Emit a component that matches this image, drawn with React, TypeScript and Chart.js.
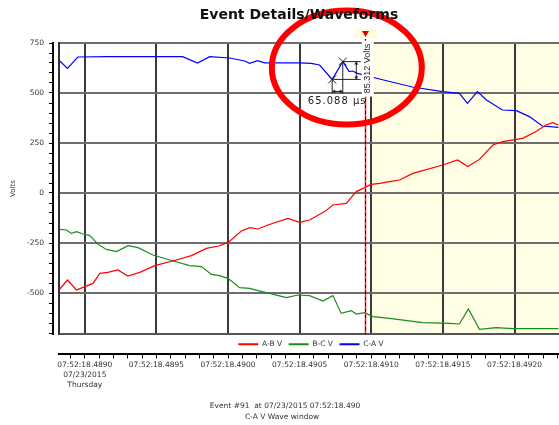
import React, { useEffect, useRef } from 'react';
import { Chart, registerables } from 'chart.js';

Chart.register(...registerables);

// ---------- data (time in microseconds after 07:52:18.4890, values in Volts) ----------
const seriesNames = ['A-B V', 'B-C V', 'C-A V'];
const seriesColors = ['#ff0000', '#1a8c1a', '#0000ff'];

const abTimes = [-174, -121, -58, 0, 58, 105, 160, 232, 300, 384, 488, 614, 744, 849, 935, 999, 1093, 1151, 1209, 1278, 1418, 1499, 1569, 1674, 1732, 1825, 1895, 1953, 1999, 2060, 2127, 2197, 2290, 2499, 2603, 2673, 2755, 2848, 2917, 3057, 3150, 3220, 3266, 3306];
const abVolts = [-480, -435, -485, -468, -452, -402, -397, -385, -415, -397, -363, -340, -313, -277, -265, -248, -190, -173, -180, -160, -127, -147, -135, -93, -60, -52, 7, 27, 43, 48, 57, 65, 98, 140, 165, 132, 168, 240, 257, 273, 307, 340, 352, 340];

const bcTimes = [-174, -128, -93, -58, -12, 35, 93, 151, 221, 302, 372, 476, 593, 732, 814, 884, 941, 999, 1081, 1151, 1209, 1290, 1407, 1488, 1569, 1662, 1732, 1790, 1860, 1895, 1953, 2011, 2127, 2359, 2545, 2615, 2678, 2755, 2871, 2987, 3306];
const bcVolts = [-182, -185, -202, -193, -205, -213, -257, -282, -293, -263, -273, -310, -335, -363, -368, -407, -413, -427, -473, -477, -488, -502, -523, -510, -513, -540, -513, -602, -588, -605, -598, -618, -627, -648, -652, -655, -580, -682, -673, -678, -678];

const caTimes = [-174, -121, -49, 160, 683, 786, 872, 1011, 1116, 1151, 1206, 1255, 1499, 1580, 1639, 1727, 1801, 1845, 1869, 1904, 2057, 2287, 2497, 2615, 2671, 2741, 2804, 2915, 3013, 3103, 3194, 3306];
const caVolts = [660, 623, 680, 682, 682, 650, 682, 675, 660, 648, 662, 651, 651, 648, 640, 568, 657, 607, 610, 598, 570, 530, 507, 498, 448, 507, 465, 415, 412, 382, 335, 328];

// axes
const xMinUs = -180;
const xMaxUs = 3750;
const yMin = -705;
const yMax = 750;
const xMajorTicksUs = [0, 500, 1000, 1500, 2000, 2500, 3000, 3500];
const xTickLabels = ['07:52:18.4890', '07:52:18.4895', '07:52:18.4900', '07:52:18.4905', '07:52:18.4910', '07:52:18.4915', '07:52:18.4920', '07:52:18.4925'];
const firstTickExtraLines = ['07/23/2015', 'Thursday'];
const xMinorStepUs = 100;
const yMajorTicks = [750, 500, 250, 0, -250, -500];
const yTickLabels = ['750', '500', '250', '0', '-250', '-500'];
const yMinorStep = 50;
const yAxisTitle = 'Volts';

// texts & markers
const titleText = 'Event Details/Waveforms';
const footerLines = ['Event #91  at 07/23/2015 07:52:18.490', 'C-A V Wave window'];
const triggerUs = 1953;
const windowStartUs = 2000;
const measureFromUs = 1727;
const measureToUs = 1801;
const measureDtText = '65.088 µs';
const measureDvText = '85.312 Volts';

const FONT = '"DejaVu Sans", sans-serif';

function range(a: number, b: number, step: number) {
  const out: number[] = [];
  for (let v = a; v <= b + 1e-9; v += step) out.push(v);
  return out;
}

const decorPlugin = {
  id: 'decor',
  beforeDraw(chart: any) {
    const { ctx, chartArea: ca, scales } = chart;
    const xs = scales.x.getPixelForValue(windowStartUs);
    ctx.save();
    ctx.fillStyle = '#fffde3';
    ctx.fillRect(xs, ca.top, ca.right - xs, ca.bottom - ca.top);
    ctx.restore();
  },
  afterDatasetsDraw(chart: any) {
    const { ctx, chartArea: ca, scales } = chart;
    const tx = Math.round(scales.x.getPixelForValue(triggerUs)) + 0.5;
    ctx.save();
    ctx.strokeStyle = '#ff2020';
    ctx.lineWidth = 1.5;
    ctx.beginPath();
    ctx.moveTo(tx, ca.top - 4);
    ctx.lineTo(tx, ca.bottom);
    ctx.stroke();
    ctx.strokeStyle = '#111';
    ctx.lineWidth = 1;
    ctx.setLineDash([3, 3]);
    ctx.beginPath();
    ctx.moveTo(tx, ca.top - 4);
    ctx.lineTo(tx, ca.bottom);
    ctx.stroke();
    ctx.setLineDash([]);
    // marker above plot
    ctx.fillStyle = '#fffbd8';
    ctx.fillRect(tx - 11, ca.top - 14, 23, 9);
    ctx.fillStyle = '#e00000';
    ctx.beginPath();
    ctx.moveTo(tx - 3.5, ca.top - 12);
    ctx.lineTo(tx + 3.5, ca.top - 12);
    ctx.lineTo(tx, ca.top - 6);
    ctx.closePath();
    ctx.fill();
    ctx.restore();
  },
  afterDraw(chart: any) {
    const { ctx, scales } = chart;
    const x = scales.x;
    const y = scales.y;
    const i1 = caTimes.indexOf(measureFromUs);
    const i2 = caTimes.indexOf(measureToUs);
    const p1 = { x: x.getPixelForValue(caTimes[i1]), y: y.getPixelForValue(caVolts[i1]) };
    const p2 = { x: x.getPixelForValue(caTimes[i2]), y: y.getPixelForValue(caVolts[i2]) };
    ctx.save();
    ctx.strokeStyle = '#222';
    ctx.fillStyle = '#222';
    ctx.lineWidth = 1;
    const cross = (p: any) => {
      ctx.beginPath();
      ctx.moveTo(p.x - 4, p.y - 4); ctx.lineTo(p.x + 4, p.y + 4);
      ctx.moveTo(p.x + 4, p.y - 4); ctx.lineTo(p.x - 4, p.y + 4);
      ctx.stroke();
    };
    cross(p1); cross(p2);
    const baseY = p1.y + 14;
    const rightX = p2.x + 18;
    ctx.beginPath();
    ctx.moveTo(p1.x, p1.y); ctx.lineTo(p1.x, baseY);
    ctx.moveTo(p2.x, p2.y); ctx.lineTo(p2.x, baseY);
    ctx.moveTo(p1.x, p1.y); ctx.lineTo(rightX, p1.y);
    ctx.moveTo(p2.x, p2.y); ctx.lineTo(rightX, p2.y);
    ctx.stroke();
    // horizontal double arrow
    const ay = baseY - 2;
    ctx.beginPath();
    ctx.moveTo(p1.x, ay); ctx.lineTo(p2.x, ay); ctx.stroke();
    ctx.beginPath();
    ctx.moveTo(p1.x, ay); ctx.lineTo(p1.x + 3, ay - 2); ctx.lineTo(p1.x + 3, ay + 2); ctx.closePath(); ctx.fill();
    ctx.beginPath();
    ctx.moveTo(p2.x, ay); ctx.lineTo(p2.x - 3, ay - 2); ctx.lineTo(p2.x - 3, ay + 2); ctx.closePath(); ctx.fill();
    // vertical double arrow
    const ax = p2.x + 13.5;
    ctx.beginPath();
    ctx.moveTo(ax, p2.y); ctx.lineTo(ax, p1.y); ctx.stroke();
    ctx.beginPath();
    ctx.moveTo(ax, p2.y); ctx.lineTo(ax - 2, p2.y + 3); ctx.lineTo(ax + 2, p2.y + 3); ctx.closePath(); ctx.fill();
    ctx.beginPath();
    ctx.moveTo(ax, p1.y); ctx.lineTo(ax - 2, p1.y - 3); ctx.lineTo(ax + 2, p1.y - 3); ctx.closePath(); ctx.fill();
    // dt text
    ctx.font = `10px ${FONT}`;
    (ctx as any).letterSpacing = '1px';
    ctx.textAlign = 'center';
    ctx.textBaseline = 'middle';
    ctx.fillText(measureDtText, p1.x + 5, baseY + 8);
    (ctx as any).letterSpacing = '0px';
    // dv text (rotated) on white box
    const vx = p2.x + 25;
    const vy = p2.y + 7;
    ctx.fillStyle = '#ffffff';
    ctx.fillRect(vx - 6, vy - 28, 12, 56);
    ctx.fillStyle = '#222';
    ctx.translate(vx, vy);
    ctx.rotate(-Math.PI / 2);
    ctx.font = `9px "Liberation Sans", Arial, sans-serif`;
    ctx.fillText(measureDvText, 0, 0);
    ctx.setTransform(1, 0, 0, 1, 0, 0);
    // red callout ellipse
    ctx.strokeStyle = '#ff0000';
    ctx.lineWidth = 6;
    ctx.beginPath();
    ctx.ellipse(p2.x + 4, p2.y + 6, 75, 57, 0, 0, Math.PI * 2);
    ctx.stroke();
    // title
    ctx.fillStyle = '#111';
    ctx.font = `bold 14px ${FONT}`;
    ctx.textAlign = 'center';
    ctx.textBaseline = 'middle';
    ctx.fillText(titleText, 299, 15);
    // footer
    ctx.fillStyle = '#333';
    ctx.font = `7.5px ${FONT}`;
    ctx.fillText(footerLines[0], 285, 406);
    ctx.fillText(footerLines[1], 282, 417);
    ctx.restore();
  },
};

export default function App() {
  const ref = useRef<HTMLCanvasElement | null>(null);
  useEffect(() => {
    if (!ref.current) return;
    const datasets = [
      { label: seriesNames[0], data: abTimes.map((t, i) => ({ x: t, y: abVolts[i] })), borderColor: seriesColors[0], backgroundColor: seriesColors[0] },
      { label: seriesNames[1], data: bcTimes.map((t, i) => ({ x: t, y: bcVolts[i] })), borderColor: seriesColors[1], backgroundColor: seriesColors[1] },
      { label: seriesNames[2], data: caTimes.map((t, i) => ({ x: t, y: caVolts[i] })), borderColor: seriesColors[2], backgroundColor: seriesColors[2] },
    ].map((d) => ({ ...d, borderWidth: 1.2, pointRadius: 0, tension: 0, fill: false }));

    const chart = new Chart(ref.current, {
      type: 'line',
      data: { datasets },
      plugins: [decorPlugin],
      options: {
        responsive: false,
        animation: false,
        layout: { padding: { top: 43, left: 0, right: 0, bottom: 31.5 } },
        plugins: {
          title: { display: false },
          tooltip: { enabled: false },
          legend: {
            position: 'bottom',
            align: 'center',
            maxHeight: 19.5,
            labels: {
              usePointStyle: true,
              pointStyle: 'line',
              pointStyleWidth: 20,
              padding: 6.5,
              color: '#333',
              font: { family: FONT, size: 7.5 },
              generateLabels: (c: any) =>
                (Chart.defaults.plugins.legend.labels.generateLabels as any)(c).map((l: any) => ({ ...l, lineWidth: 2 })),
            },
          },
        },
        scales: {
          x: {
            type: 'linear',
            position: 'bottom',
            min: xMinUs,
            max: xMaxUs,
            weight: 0,
            afterBuildTicks: (s: any) => { s.ticks = xMajorTicksUs.map((v) => ({ value: v })); },
            afterFit: (s: any) => { s.height = 0; },
            ticks: { display: false },
            grid: { color: '#3a3a3a', lineWidth: 2, drawTicks: false },
            border: { display: true, color: '#555', width: 2 },
          },
          x2: {
            type: 'linear',
            position: 'bottom',
            min: xMinUs,
            max: xMaxUs,
            weight: 1100,
            afterBuildTicks: (s: any) => { s.ticks = range(-100, xMaxUs, xMinorStepUs).map((v) => ({ value: v })); },
            afterFit: (s: any) => { s.height = 40; },
            ticks: {
              autoSkip: false,
              maxRotation: 0,
              minRotation: 0,
              padding: 2,
              color: '#333',
              font: { family: FONT, size: 7.5, lineHeight: 1.333 },
              callback: (v: any) => {
                const i = xMajorTicksUs.indexOf(Math.round(Number(v)));
                if (i < 0) return '';
                return i === 0 ? [xTickLabels[0], ...firstTickExtraLines] : xTickLabels[i];
              },
            },
            grid: { drawOnChartArea: false, drawTicks: true, tickLength: 5, color: '#000', tickWidth: 1 },
            border: { display: true, color: '#000', width: 2 },
          },
          y: {
            type: 'linear',
            position: 'left',
            min: yMin,
            max: yMax,
            weight: 0,
            afterBuildTicks: (s: any) => { s.ticks = yMajorTicks.map((v) => ({ value: v })); },
            afterFit: (s: any) => { s.width = 6; },
            ticks: { display: false },
            grid: { color: '#6e6e6e', lineWidth: 2, drawTicks: false },
            border: { display: true, color: '#333', width: 2 },
          },
          y2: {
            type: 'linear',
            position: 'left',
            min: yMin,
            max: yMax,
            weight: 1100,
            afterBuildTicks: (s: any) => { s.ticks = range(-700, yMax, yMinorStep).map((v) => ({ value: v })); },
            afterFit: (s: any) => { s.width = 53; },
            ticks: {
              autoSkip: false,
              padding: 5,
              color: '#333',
              font: { family: FONT, size: 7.5 },
              callback: (v: any) => {
                const i = yMajorTicks.indexOf(Math.round(Number(v)));
                return i < 0 ? '' : yTickLabels[i];
              },
            },
            grid: { drawOnChartArea: false, drawTicks: true, tickLength: 4, color: '#000', tickWidth: 1 },
            border: { display: true, color: '#000', width: 2 },
            title: { display: true, text: yAxisTitle, color: '#333', font: { family: FONT, size: 7 }, padding: { top: 9, bottom: 0 } },
          },
        },
      } as any,
    });
    return () => chart.destroy();
  }, []);

  return (
    <div style={{ position: 'absolute', left: 0, top: 0, width: 559, height: 425, overflow: 'hidden', background: '#fff' }}>
      <canvas ref={ref} width={622} height={425} style={{ display: 'block' }} />
    </div>
  );
}
